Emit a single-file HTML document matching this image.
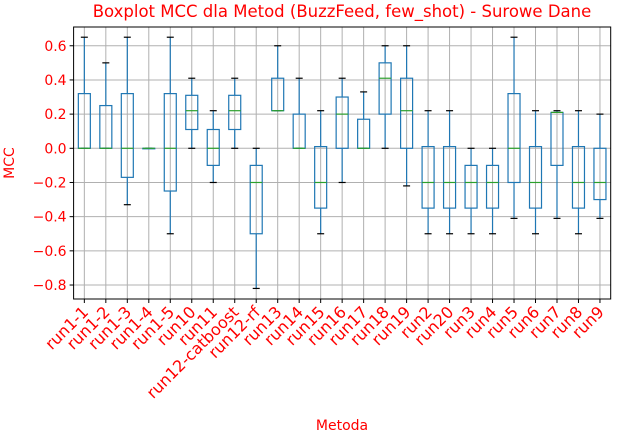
<!DOCTYPE html>
<html><head><meta charset="utf-8"><style>
body{margin:0;background:#fff;}
svg text{font-family:"DejaVu Sans","Liberation Sans",sans-serif;}
</style></head><body>
<svg id="chart" width="636" height="435" xmlns="http://www.w3.org/2000/svg">
<text x="342" y="17" text-anchor="middle" font-size="16.5" fill="red">Boxplot MCC dla Metod (BuzzFeed, few_shot) - Surowe Dane</text>
<text x="14" y="163" text-anchor="middle" font-size="14" fill="red" transform="rotate(-90 14 163)">MCC</text>
<text x="342" y="430" text-anchor="middle" font-size="14" fill="red">Metoda</text>
<g id="grid"></g><g id="marks"></g><g id="axes"></g>
</svg>
<script>
const categories=["run1-1","run1-2","run1-3","run1-4","run1-5","run10","run11","run12-catboost","run12-rf","run13","run14","run15","run16","run17","run18","run19","run2","run20","run3","run4","run5","run6","run7","run8","run9"];
const whiskerLow=[0,0,-0.33,0,-0.5,0,-0.2,0,-0.82,0.22,0,-0.5,-0.2,0,0,-0.22,-0.5,-0.5,-0.5,-0.5,-0.41,-0.5,-0.41,-0.5,-0.41];
const q1=[0,0,-0.17,0,-0.25,0.11,-0.1,0.11,-0.5,0.22,0,-0.35,0,0,0.2,0,-0.35,-0.35,-0.35,-0.35,-0.2,-0.35,-0.1,-0.35,-0.3];
const medians=[0,0,0,0,0,0.22,0,0.22,-0.2,0.22,0,-0.2,0.2,0,0.41,0.22,-0.2,-0.2,-0.2,-0.2,0,-0.2,0.21,-0.2,-0.2];
const q3=[0.32,0.25,0.32,0,0.32,0.31,0.11,0.31,-0.1,0.41,0.2,0.01,0.3,0.17,0.5,0.41,0.01,0.01,-0.1,-0.1,0.32,0.01,0.21,0.01,0];
const whiskerHigh=[0.65,0.5,0.65,0,0.65,0.41,0.22,0.41,0,0.6,0.41,0.22,0.41,0.33,0.6,0.6,0.22,0.22,0,0,0.65,0.22,0.22,0.22,0.2];
const yTicks=[-0.8,-0.6,-0.4,-0.2,0.0,0.2,0.4,0.6];
const L=73.6,R=610.7,T=27,B=299;
const yScale=v=>148.3-v*170.9;
const xScale=i=>L+(i+0.5)*(R-L)/categories.length;
const NS="http://www.w3.org/2000/svg";
function mk(parent,tag,attrs){const e=document.createElementNS(NS,tag);for(const k in attrs)e.setAttribute(k,attrs[k]);document.getElementById(parent).appendChild(e);return e;}
yTicks.forEach(t=>{const y=yScale(t);
 const g=mk('grid','line',{x1:L,x2:R,y1:y,y2:y,stroke:'#b0b0b0','stroke-width':1});
 
 
 mk('axes','line',{x1:L-4,x2:L,y1:y,y2:y,stroke:'#000'});
 const tx=mk('axes','text',{x:L-7,y:y+5,'text-anchor':'end','font-size':14,fill:'red'});
 tx.textContent=t.toFixed(1).replace('-','−');
 
 
});
categories.forEach((c,i)=>{const x=xScale(i);
 const g=mk('grid','line',{x1:x,x2:x,y1:T,y2:B,stroke:'#b0b0b0','stroke-width':1});
 
 
 mk('axes','line',{x1:x,x2:x,y1:B,y2:B+4,stroke:'#000'});
 const tx=mk('axes','text',{x:x+5,y:B+14,'text-anchor':'end','font-size':16,fill:'red',transform:`rotate(-45 ${x+5} ${B+14})`});
 tx.textContent=c;
 
 
 const w=6;const col='#1f77b4';
 const g2=mk('marks','g',{});
 
 
 const add=(tag,a)=>{const e=document.createElementNS(NS,tag);for(const k in a)e.setAttribute(k,a[k]);g2.appendChild(e);};
 add('line',{x1:x,x2:x,y1:yScale(whiskerLow[i]),y2:yScale(q1[i]),stroke:col,'stroke-width':1.2});
 add('line',{x1:x,x2:x,y1:yScale(q3[i]),y2:yScale(whiskerHigh[i]),stroke:col,'stroke-width':1.2});
 add('line',{x1:x-3.5,x2:x+3.5,y1:yScale(whiskerLow[i]),y2:yScale(whiskerLow[i]),stroke:'#000','stroke-width':1.2});
 add('line',{x1:x-3.5,x2:x+3.5,y1:yScale(whiskerHigh[i]),y2:yScale(whiskerHigh[i]),stroke:'#000','stroke-width':1.2});
 add('rect',{x:x-w,y:yScale(q3[i]),width:2*w,height:Math.max(0.5,yScale(q1[i])-yScale(q3[i])),fill:'none',stroke:col,'stroke-width':1.2});
 add('line',{x1:x-w,x2:x+w,y1:yScale(medians[i]),y2:yScale(medians[i]),stroke:'#2ca02c','stroke-width':1.2});
});
const fr=mk('axes','rect',{x:L,y:T,width:R-L,height:B-T,fill:'none',stroke:'#000','stroke-width':1});


</script>
</body></html>
